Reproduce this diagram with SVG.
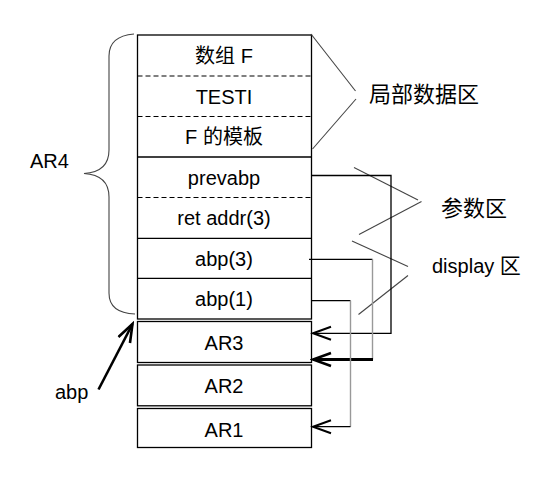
<svg xmlns="http://www.w3.org/2000/svg" width="539" height="477" viewBox="0 0 539 477">
<style>
.t{font-family:"Liberation Sans","Noto Sans CJK SC",sans-serif;font-size:20px;fill:#000;text-anchor:middle}
.l{font-family:"Liberation Sans","Noto Sans CJK SC",sans-serif;font-size:20px;fill:#000}
.c{font-family:"Noto Sans CJK SC",sans-serif;font-size:22px;fill:#000}
.box{fill:#fff;stroke:#000;stroke-width:1.3}
.sep{stroke:#000;stroke-width:1.3}
.dash{stroke:#000;stroke-width:1.2;stroke-dasharray:5,3}
.g{stroke:#444;stroke-width:1.1;fill:none}
.gv{stroke:#999;stroke-width:1.4;fill:none}
.k{stroke:#000;stroke-width:1.3;fill:none}
</style>
<defs>
<marker id="ah" markerUnits="userSpaceOnUse" markerWidth="22" markerHeight="18" refX="19" refY="8" orient="auto" viewBox="0 0 22 18">
<path d="M1,1.5 L19,8 L1,14.5" fill="none" stroke="#000" stroke-width="2"/>
</marker>
<marker id="ah2" markerUnits="userSpaceOnUse" markerWidth="22" markerHeight="18" refX="19" refY="8" orient="auto" viewBox="0 0 22 18">
<path d="M1,1.5 L19,8 L1,14.5" fill="none" stroke="#000" stroke-width="2.6"/>
</marker>
</defs>
<g id="ar4">
<rect class="box" x="137.5" y="35" width="174" height="284"/>
</g>
<g id="arrF">
<text class="t" x="224" y="63">数组 F</text>
<line class="dash" x1="137.5" y1="76" x2="311.5" y2="76"/>
</g>
<g id="testi">
<text class="t" x="224" y="103.5">TESTI</text>
<line class="dash" x1="137.5" y1="116.5" x2="311.5" y2="116.5"/>
</g>
<g id="tmplF">
<text class="t" x="224" y="144">F 的模板</text>
<line class="sep" x1="137.5" y1="157" x2="311.5" y2="157"/>
</g>
<g id="prevabp">
<text class="t" x="224" y="185">prevabp</text>
<line class="dash" x1="137.5" y1="197.5" x2="311.5" y2="197.5"/>
</g>
<g id="retaddr">
<text class="t" x="224" y="225">ret addr(3)</text>
<line class="sep" x1="137.5" y1="238.3" x2="311.5" y2="238.3"/>
</g>
<g id="abp3">
<text class="t" x="224" y="265.5">abp(3)</text>
<line class="sep" x1="137.5" y1="278.3" x2="311.5" y2="278.3"/>
</g>
<g id="abp1">
<text class="t" x="224" y="306">abp(1)</text>
</g>
<g id="ar3">
<rect class="box" x="137.5" y="321.5" width="174" height="41"/>
<text class="t" x="224" y="350">AR3</text>
</g>
<g id="ar2">
<rect class="box" x="137.5" y="365" width="174" height="40.8"/>
<text class="t" x="224" y="392.5">AR2</text>
</g>
<g id="ar1">
<rect class="box" x="137.5" y="408.5" width="174" height="39"/>
<text class="t" x="224" y="436.5">AR1</text>
</g>
<g id="labels">
<text class="l" x="30" y="168">AR4</text>
<text class="l" x="55" y="399">abp</text>
<text class="c" x="369" y="102">局部数据区</text>
<text class="c" x="441" y="216">参数区</text>
<text class="l" x="432" y="273">display <tspan font-family="Noto Sans CJK SC" font-size="21">区</tspan></text>
</g>
<g id="connectors">
<path class="g" d="M134,34 Q109,36 109,56 L109,150 Q109,172 84,173.5 Q109,175 109,197 L109,293 Q109,313 135,314"/>
<line class="g" x1="311" y1="34" x2="355.5" y2="91"/>
<line class="g" x1="356" y1="99" x2="312.5" y2="149"/>
<line class="g" x1="354" y1="167.5" x2="418" y2="200"/>
<line class="g" x1="421.5" y1="201.5" x2="359" y2="234.5"/>
<line class="g" x1="352" y1="241" x2="408" y2="266.5"/>
<line class="g" x1="408" y1="275.5" x2="358.5" y2="314.5"/>
<path class="k" d="M311.5,175.5 H391 V333.3 H313" marker-end="url(#ah)"/>
<path class="k" d="M309,259.3 H372.5"/>
<path class="gv" d="M372.5,259.3 V359.5"/>
<path d="M373,359.5 H313" fill="none" stroke="#000" stroke-width="3.2" marker-end="url(#ah2)"/>
<path class="k" d="M311.5,300.7 H350.5"/>
<path class="gv" d="M350.5,300.7 V426.7"/>
<path class="k" d="M350.5,426.7 H313" marker-end="url(#ah)"/>
<line x1="98.5" y1="389.5" x2="132.5" y2="324" stroke="#000" stroke-width="2.6" marker-end="url(#ah2)"/>
</g>
</svg>
